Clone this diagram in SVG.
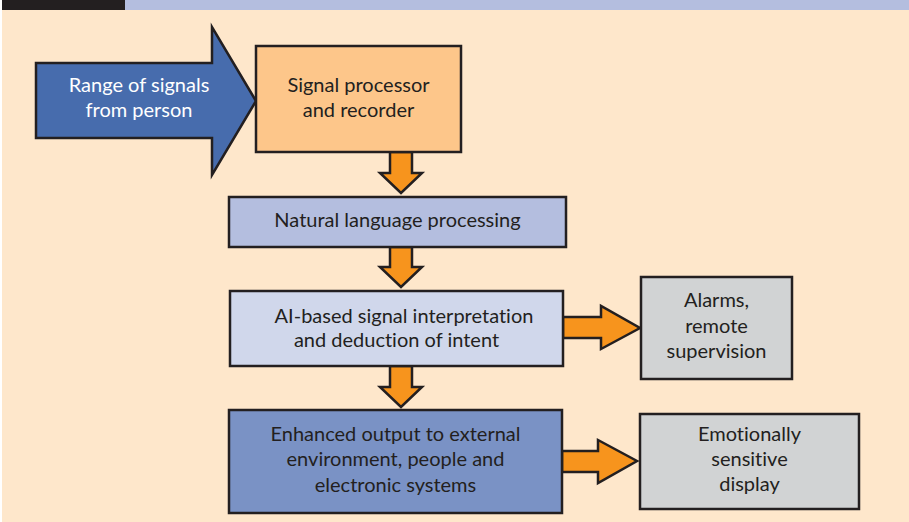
<svg xmlns="http://www.w3.org/2000/svg" width="909" height="522" viewBox="0 0 909 522">
<style>
.sh{stroke:#231F20;stroke-width:2.5;stroke-linejoin:miter}
.ar{fill:#F7941D;stroke:#231F20;stroke-width:2.5;stroke-linejoin:miter}
text{font-family:Lato,"Liberation Sans",sans-serif;font-size:20px;fill:#231F20;text-anchor:middle;font-variant-ligatures:none}
.w{fill:#FFFFFF}
</style>
<rect x="0" y="0" width="909" height="522" fill="#FFFFFF"/>
<rect x="2" y="10" width="907" height="512" fill="#FEE7CB"/>
<rect x="2" y="0" width="123" height="10" fill="#231F20"/>
<rect x="125" y="0" width="784" height="10" fill="#B4BEDF"/>
<g id="connectors">
<path class="ar" d="M390,152 L412,152 L412,173 L422,173 L401,193 L380,173 L390,173 Z"/>
<path class="ar" d="M390,247 L412,247 L412,267 L422,267 L401,287 L380,267 L390,267 Z"/>
<path class="ar" d="M390,366 L412,366 L412,387 L422,387 L401,407 L380,387 L390,387 Z"/>
<path class="ar" d="M563,317 L601,317 L601,306 L640,328 L601,349 L601,338 L563,338 Z"/>
<path class="ar" d="M562,451 L598,451 L598,440 L637,461 L598,483 L598,472 L562,472 Z"/>
</g>
<g id="source">
<path class="sh" fill="#476CAD" d="M36,63 L212,63 L212,27 L256,101 L212,175 L212,138 L36,138 Z"/>
<text class="w" x="139" y="92">Range of signals</text>
<text class="w" x="139" y="117">from person</text>
</g>
<g id="processor">
<rect class="sh" x="256" y="46" width="205" height="106" fill="#FDC68A"/>
<text x="358.5" y="92">Signal processor</text>
<text x="358.5" y="117">and recorder</text>
</g>
<g id="nlp">
<rect class="sh" x="229" y="197" width="337" height="50" fill="#B4BEDF"/>
<text x="397.5" y="227">Natural language processing</text>
</g>
<g id="ai">
<rect class="sh" x="230" y="291" width="333" height="75" fill="#D0D7EB"/>
<text x="404" y="323">AI-based signal interpretation</text>
<text x="396.5" y="347">and deduction of intent</text>
</g>
<g id="alarms">
<rect class="sh" x="641" y="277" width="151" height="102" fill="#D1D3D4"/>
<text x="716.5" y="307">Alarms,</text>
<text x="716.5" y="333">remote</text>
<text x="716.5" y="358">supervision</text>
</g>
<g id="output">
<rect class="sh" x="229" y="410" width="333" height="103" fill="#7A92C5"/>
<text x="395.5" y="441">Enhanced output to external</text>
<text x="395.5" y="466">environment, people and</text>
<text x="395.5" y="492">electronic systems</text>
</g>
<g id="display">
<rect class="sh" x="640" y="414" width="219" height="95" fill="#D1D3D4"/>
<text x="749.5" y="441">Emotionally</text>
<text x="749.5" y="466">sensitive</text>
<text x="749.5" y="491">display</text>
</g>
</svg>
